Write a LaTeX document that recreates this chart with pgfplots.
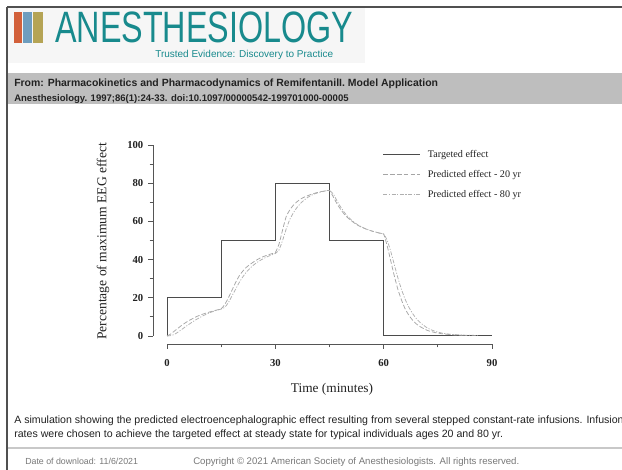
\documentclass[border=0pt]{standalone}
\usepackage{fontspec}
\setmainfont{Liberation Serif}
\newfontfamily\arial{Liberation Sans}
\usepackage{graphicx}
\usepackage{pgfplots}
\pgfplotsset{compat=1.18}
\definecolor{logoteal}{RGB}{24,138,141}
\definecolor{logobg}{RGB}{246,246,246}
\definecolor{barorange}{RGB}{210,96,58}
\definecolor{barblue}{RGB}{110,157,190}
\definecolor{barolive}{RGB}{181,164,85}
\definecolor{bandgray}{RGB}{190,190,190}
\definecolor{bordergray}{RGB}{80,80,80}
\definecolor{hrgray}{RGB}{200,200,200}
\definecolor{footgray}{RGB}{120,120,120}
\definecolor{textc}{RGB}{34,34,34}
\definecolor{axisc}{RGB}{85,85,85}
\definecolor{targetc}{RGB}{75,75,75}
\definecolor{youngc}{RGB}{165,165,165}
\definecolor{oldc}{RGB}{175,175,175}

\begin{document}
\begin{tikzpicture}
\path[use as bounding box] (0,0) rectangle (466.5pt,-352.5pt);
\clip (0,0) rectangle (466.5pt,-352.5pt);
\fill[white] (0,0) rectangle (466.5pt,-352.5pt);
\begin{scope}[x=0.75pt,y=-0.75pt]
  % logo
  \fill[logobg] (8,8) rectangle (365,63);
  \fill[barorange] (13.5,12) rectangle (22.4,43.3);
  \fill[barblue] (23.3,12) rectangle (32.3,43.3);
  \fill[barolive] (33.3,12) rectangle (42.7,43.3);
  \node[anchor=base west, inner sep=0pt, text=logoteal] at (55,43)
    {\resizebox{223.5pt}{23pt}{\arial ANESTHESIOLOGY}};
  \node[anchor=base west, inner sep=0pt, text=logoteal, font=\arial\fontsize{7.5}{9}\selectfont]
    at (155,57.5) {Trusted Evidence: Discovery to Practice};
  % grey band
  \fill[bandgray] (8,73) rectangle (622,104);
  \node[anchor=base west, inner sep=0pt, text=textc, font=\arial\bfseries\fontsize{7.85}{9}\selectfont]
    at (14,87) {From: Pharmacokinetics and Pharmacodynamics of RemifentanilI. Model Application};
  \node[anchor=base west, inner sep=0pt, text=textc, font=\arial\bfseries\fontsize{7.15}{8}\selectfont]
    at (14,101.5) {Anesthesiology. 1997;86(1):24-33. doi:10.1097/00000542-199701000-00005};
  % frame
  \draw[bordergray, line width=0.9pt] (7,7) -- (622,7);
  \draw[bordergray, line width=0.9pt] (7,7) -- (7,470);
  % caption
  \node[anchor=base west, inner sep=0pt, text=textc, font=\arial\fontsize{7.95}{9}\selectfont]
    at (14,424) {A simulation showing the predicted electroencephalographic effect resulting from several stepped constant-rate infusions. Infusion};
  \node[anchor=base west, inner sep=0pt, text=textc, font=\arial\fontsize{7.95}{9}\selectfont]
    at (14,438) {rates were chosen to achieve the targeted effect at steady state for typical individuals ages 20 and 80 yr.};
  \draw[hrgray, line width=0.8pt] (8,448) -- (622,448);
  \node[anchor=base west, inner sep=0pt, text=footgray, font=\arial\fontsize{6.6}{8}\selectfont]
    at (25,465) {Date of download: 11/6/2021};
  \node[anchor=base west, inner sep=0pt, text=footgray, font=\arial\fontsize{7.2}{8}\selectfont]
    at (193,465) {Copyright \textcopyright\ 2021 American Society of Anesthesiologists. All rights reserved.};
\end{scope}

\begin{axis}[
  at={(114.75pt,-258pt)}, anchor=south west,
  scale only axis, width=254.25pt, height=149.25pt,
  xmin=-3.88, xmax=90, ymin=-4.19, ymax=100,
  clip=false,
  axis x line*=bottom, axis y line*=left,
  x axis line style={draw=none}, y axis line style={draw=none},
  xtick={0,30,60,90}, ytick={0,20,40,60,80,100},
  minor x tick num=1, minor y tick num=1,
  tick align=outside,
  major tick length=3.75pt, minor tick length=2.5pt,
  every tick/.style={axisc, line width=0.6pt},
  /pgf/number format/assume math mode=true,
  tick label style={font=\bfseries\fontsize{8}{9}\selectfont, text=textc},
  xticklabel style={yshift=-4.3pt},
  xlabel={Time (minutes)},
  ylabel={Percentage of maximum EEG effect},
  xlabel style={at={(axis description cs:0.528,-0.246)}, anchor=base, font=\fontsize{10}{12}\selectfont, text=textc},
  ylabel style={at={(axis description cs:-0.1475,0.515)}, anchor=center, font=\fontsize{10.2}{12}\selectfont, text=textc},
  legend cell align=left,
  legend image code/.code={\draw[#1] (0pt,0pt) -- (27.75pt,0pt);},
  legend style={at={(axis description cs:0.678,0.975)}, anchor=north west,
    draw=none, fill=none, inner sep=0pt, outer sep=0pt, row sep=7.8pt,
    font=\fontsize{7.6}{9}\selectfont, text=textc,
    nodes={inner sep=0pt, text height=5.5pt, text depth=1.7pt},
    /tikz/every odd column/.append style={column sep=5.25pt}},
]
\draw[axisc, line width=0.6pt] (axis cs:0,-4.19) -- (axis cs:90,-4.19);
\draw[axisc, line width=0.6pt] (axis cs:-3.88,0) -- (axis cs:-3.88,100);

\addplot[targetc, line width=0.75pt] coordinates {
(0,0)(0,20)(15,20)(15,50)(30,50)(30,80)(45,80)(45,50)(60,50)(60,0)(90,0)};
\addlegendentry{Targeted effect}

\addplot[youngc, line width=0.55pt, dash pattern=on 3.5pt off 1.6pt, smooth, tension=0.3] coordinates {
(0,0)(1,1.0)(2,2.5)(3,4)(4,5.5)(5,6.8)(6,8)(7,9)(8,10)(9,10.8)(10,11.5)(11,12.1)(12,12.7)(13,13.2)(14,13.7)(15,14.2)
(16,16.5)(17,20)(18,24)(19,28)(20,31.5)(21,34)(22,36)(23,37.5)(24,38.8)(25,40)(26,41)(27,41.8)(28,42.5)(29,43.1)(30,43.7)
(31,48)(32,55.5)(33,62.5)(34,66)(35,68.5)(36,70.3)(37,71.7)(38,72.7)(39,73.5)(40,74.2)(41,74.8)(42,75.3)(43,75.7)(44,76)(45,76.2)
(46,73)(47,69.5)(48,66.5)(49,64)(50,62)(51,60.4)(52,59)(53,57.8)(54,56.9)(55,56.1)(56,55.4)(57,54.8)(58,54.3)(59,53.8)(60,53.4)
(61,47)(62,39)(63,31)(64,24)(65,18.5)(66,14)(67,10.8)(68,8.3)(69,6.4)(70,5)(72,3)(74,1.9)(76,1.2)(78,0.8)(80,0.5)(83,0.3)};
\addlegendentry{Predicted effect - 20 yr}

\addplot[oldc, line width=0.55pt, dash pattern=on 3pt off 1.2pt on 0.8pt off 1.2pt, smooth, tension=0.3] coordinates {
(0,0)(1,0.2)(2,0.8)(3,2)(4,3.3)(5,4.7)(6,6)(7,7.3)(8,8.5)(9,9.6)(10,10.6)(11,11.5)(12,12.3)(13,13)(14,13.6)(15,14.1)
(16,15)(17,17.5)(18,21)(19,24.5)(20,28)(21,31)(22,33.5)(23,35.5)(24,37.2)(25,38.6)(26,39.8)(27,40.8)(28,41.7)(29,42.5)(30,43.2)
(31,45)(32,50)(33,56)(34,61)(35,64.5)(36,67.3)(37,69.5)(38,71.2)(39,72.6)(40,73.7)(41,74.5)(42,75.1)(43,75.6)(44,76)(45,76.2)
(46,74.5)(47,71)(48,67.8)(49,65)(50,62.7)(51,60.8)(52,59.3)(53,58)(54,57)(55,56.1)(56,55.4)(57,54.8)(58,54.3)(59,53.8)(60,53.4)
(61,50)(62,44)(63,37)(64,30)(65,24)(66,19)(67,15)(68,11.8)(69,9.2)(70,7.2)(72,4.3)(74,2.6)(76,1.6)(78,1)(80,0.7)(83,0.4)(86,0.3)};
\addlegendentry{Predicted effect - 80 yr}
\end{axis}
\end{tikzpicture}
\end{document}
